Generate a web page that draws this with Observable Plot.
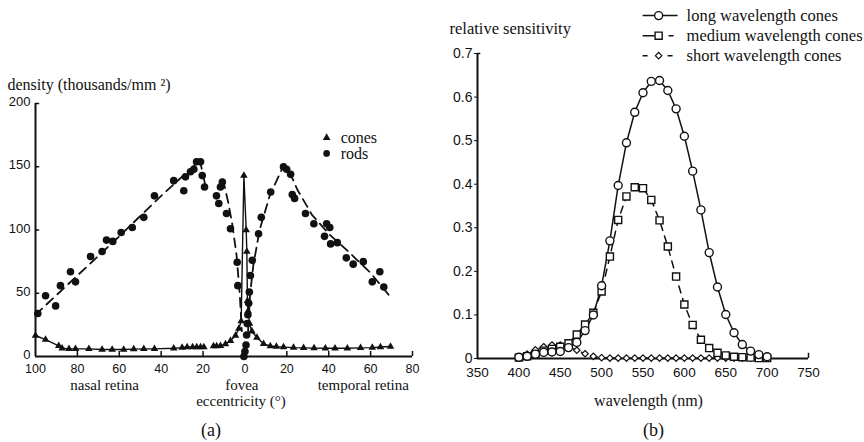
<!DOCTYPE html>
<html><head><meta charset="utf-8">
<script src="https://cdn.jsdelivr.net/npm/d3@7"></script>
<script src="https://cdn.jsdelivr.net/npm/@observablehq/plot@0.6"></script>
<style>
body{margin:0;background:#fff;}
#wrap{position:relative;width:864px;height:442px;overflow:hidden;background:#fff;}
#a{position:absolute;left:0;top:0;}
#b{position:absolute;left:432px;top:0;}
#wrap svg g[aria-label="text"] text{font-family:"Liberation Serif","Times New Roman",Times,"DejaVu Serif",serif;}
#wrap svg g[aria-label$="tick label"] text{font-family:"Liberation Sans",Arial,Helvetica,sans-serif;}
</style></head><body>
<div id="wrap"><div id="a"></div><div id="b"></div></div>
<script>
// ---------- Panel (a): photoreceptor density vs eccentricity ----------
const eccTicks = [-100,-80,-60,-40,-20,0,20,40,60,80];
const densTicks = [0,50,100,150,200];

const rodX = [-98.9,-95.2,-90.4,-88.1,-83.3,-80.9,-73.7,-68.2,-66.1,-63.1,-59.1,-53.8,-48.3,-43.2,-34,-29.2,-28.4,-26,-24.4,-23.1,-21.2,-20.4,-19.3,
  -13.6,-12.5,-11.7,-10.8,-8.8,-6.9,-3.7,-3.4,
  -0.5,0,0.5,0.8,
  1.1,1.4,1.8,2.1,2.6,3.5,6.5,7.8,12.3,18.4,19.9,21.8,22.6,23.7,28.9,32.9,38,39,40.5,40.9,44.1,48.4,51.7,56.5,60.8,64.4,66.3];
const rodD = [34,48,40,56,67,59,79,83,92,91,98,102,110,127,139,131,142,146,148,154,154,143,134,
  127,121,134,138,113,101,74.5,56,
  0,4,9,17,
  26,33,42,51,64,76,97,110,130,150,148,144,128,125,113,105,95,105,102,89,90,78,73,75,59,67,55];

const rodFitX = [-100,-60,-40,-21.5,-19, -10.5,-8,-6,-4,-2.5,-1.5, 1.5,2.5,4,7,12,18.5,21.5,25,32,40,50,60,70];
const rodFitD = [33,95,127,155,136, 140,122,104,80,50,20, 20,50,72,100,128,151,145,132,112,97,82,66,46];
const rodFitSeg = ["n","n","n","n","n", "l","l","l","l","l","l", "r","r","r","r","r","r","r","r","r","r","r","r","r"];

const coneNasalX = [-100,-95.2,-88.9,-87.3,-84,-80.9,-74.5,-68.2,-63.4,-57.9,-53.1,-48.3,-43.2,-34,-30,-27.6,-25,-23,-21.2,-19.6];
const coneNasalD = [16.6,13.3,8.4,6.5,6,6,6,5.5,5.5,5.5,5.8,6,6,6.5,7,7.5,7.5,7.5,7.5,7.5];
const coneFovealX = [-15,-13.5,-11.7,-9.3,-6.9,-4.5,-2.9,-1.8,-0.5,0.6,0.9,1.2,1.5,2.2,3.3,5.7,8.9,12.1,15,18.4,23.2,28,33,38.4,43,48.9,55.2,60.8,64.7,69.5];
const coneFovealD = [8.3,8.3,8.5,9.8,12.4,16.6,22,28,143,100,83,44,36,26,20,15,10,8.3,7.8,7.4,7,6.8,6.6,6.5,6.5,6.5,6.8,7,7.5,7.9];

const legendALabels = ["cones","rods"];
const legendASymbols = ["triangle","circle"];
const regionLabels = ["nasal retina","fovea","temporal retina"];
const regionX = [-67,-1.5,56.5];

// ---------- Panel (b): cone spectral sensitivity ----------
const wlTicks = [350,400,450,500,550,600,650,700,750];
const sensTicks = [0,0.1,0.2,0.3,0.4,0.5,0.6,0.7];
const wavelength = [400,410,420,430,440,450,460,470,480,490,500,510,520,530,540,550,560,570,580,590,600,610,620,630,640,650,660,670,680,690,700];
const longCones = [0.003,0.005,0.01,0.014,0.015,0.016,0.025,0.037,0.064,0.1,0.167,0.27,0.397,0.495,0.565,0.61,0.636,0.638,0.615,0.573,0.51,0.43,0.341,0.243,0.164,0.101,0.059,0.032,0.017,0.009,0.004];
const mediumCones = [0.002,0.005,0.01,0.018,0.022,0.027,0.035,0.055,0.078,0.105,0.154,0.234,0.318,0.372,0.393,0.391,0.364,0.317,0.257,0.188,0.124,0.077,0.043,0.024,0.013,0.007,0.004,0.003,0.002,0.001,0.001];
const shortCones = [0.003,0.01,0.02,0.027,0.031,0.031,0.027,0.019,0.011,0.005,0.002,0.001,0.001,0.001,0.001,0.001,0.001,0.001,0.001,0.001,0.001,0.001,0.001,0.001,0.001,0.001,0.001,0.001,0.001,0.001,0.001];
const legendBLabels = ["long wavelength cones","medium wavelength cones","short wavelength cones"];

// ---------- build ----------
const serif = "Liberation Serif, Times New Roman, Times, DejaVu Serif, serif";
const ink = "#111";

const rods = rodX.map((x,i)=>({x, y: rodD[i]}));
const rodFit = rodFitX.map((x,i)=>({x, y: rodFitD[i], seg: rodFitSeg[i]}));
const cones = coneNasalX.map((x,i)=>({x, y: coneNasalD[i], seg:"n"}))
  .concat(coneFovealX.map((x,i)=>({x, y: coneFovealD[i], seg:"f"})));
const legendA = legendALabels.map((label,i)=>({label, symbol: legendASymbols[i], x: 39, y: 173 - i*12.5}));
const regions = regionLabels.map((label,i)=>({label, x: regionX[i]}));

const plotA = Plot.plot({
  width: 432, height: 442,
  marginLeft: 35, marginRight: 20, marginTop: 103, marginBottom: 86,
  style: {fontSize: "13px", color: ink, background: "#fff"},
  x: {domain: [-100, 80]},
  y: {domain: [0, 200]},
  marks: [
    Plot.axisX({ticks: eccTicks, tickSize: 0, tickPadding: 8, tickFormat: d => String(Math.abs(d)), fontSize: 12.5, label: null}),
    Plot.axisY({ticks: densTicks, tickSize: 0, tickPadding: 5, fontSize: 13, dy: -1.5, label: null}),
    Plot.ruleX(eccTicks.filter(d => d !== 0 && d !== -100), {y1: 0, y2: 4, stroke: ink, strokeWidth: 1.5}),
    Plot.ruleY(densTicks.filter(d => d > 0), {x1: -100, x2: -98, stroke: ink, strokeWidth: 1.5}),
    Plot.ruleY([0], {x1: -100, x2: 80, stroke: ink, strokeWidth: 2}),
    Plot.ruleX([-100], {y1: 0, y2: 200, stroke: ink, strokeWidth: 2}),
    Plot.line(rodFit, {x: "x", y: "y", z: "seg", stroke: ink, strokeWidth: 1.8, strokeDasharray: "9,6"}),
    Plot.line(cones, {x: "x", y: "y", z: "seg", stroke: ink, strokeWidth: 1.4}),
    Plot.dot(cones, {x: "x", y: "y", symbol: "triangle", r: 2.8, fill: ink}),
    Plot.dot(rods, {x: "x", y: "y", r: 3.8, fill: ink}),
    Plot.dot(legendA, {x: "x", y: "y", symbol: "symbol", r: d => d.symbol === "circle" ? 3.8 : 2.8, fill: ink}),
    Plot.text(legendA, {x: "x", y: "y", text: "label", dx: 14, textAnchor: "start", fontFamily: serif, fontSize: 16}),
    Plot.text(regions, {x: "x", text: "label", frameAnchor: "bottom", lineAnchor: "middle", dy: 28.5, fontFamily: serif, fontSize: 15}),
    Plot.text(["eccentricity (°)"], {text: d => d, frameAnchor: "bottom", lineAnchor: "middle", dx: 17, dy: 45, fontFamily: serif, fontSize: 15}),
    Plot.text(["(a)"], {text: d => d, frameAnchor: "bottom", lineAnchor: "middle", dx: -13, dy: 74, fontFamily: serif, fontSize: 18}),
    Plot.text(["density (thousands/mm ²)"], {text: d => d, frameAnchor: "top-left", lineAnchor: "middle", dx: -28, dy: -19, textAnchor: "start", fontFamily: serif, fontSize: 16})
  ]
});
document.getElementById("a").appendChild(plotA);

const longData = wavelength.map((w,i)=>({w, s: longCones[i]}));
const medData = wavelength.map((w,i)=>({w, s: mediumCones[i]}));
const shortData = wavelength.map((w,i)=>({w, s: shortCones[i]}));
const legendB = legendBLabels.map((label,i)=>({label, y: 0.787 - i*0.046}));

const plotB = Plot.plot({
  width: 432, height: 442,
  marginLeft: 45, marginRight: 56, marginTop: 53, marginBottom: 84,
  style: {fontSize: "13px", color: ink, background: "#fff"},
  x: {domain: [350, 750]},
  y: {domain: [0, 0.7]},
  marks: [
    Plot.axisX({ticks: wlTicks, tickSize: 0, tickPadding: 9, fontSize: 13.5, label: null}),
    Plot.axisY({ticks: sensTicks, tickSize: 3, tickPadding: 2, fontSize: 14, label: null, tickFormat: d => d === 0 ? "0" : d3.format(".1f")(d)}),
    Plot.ruleY([0], {x1: 350, x2: 750, stroke: ink, strokeWidth: 2}),
    Plot.ruleX([350], {y1: 0, y2: 0.7, stroke: ink, strokeWidth: 2}),
    Plot.ruleY([0.7], {x1: 350, x2: 354, stroke: ink, strokeWidth: 1.5}),
    Plot.ruleX([750], {y1: 0, y2: 0.012, stroke: ink, strokeWidth: 1.5}),
    Plot.line(shortData, {x: "w", y: "s", stroke: ink, strokeWidth: 1.3, strokeDasharray: "6,5"}),
    Plot.line(medData, {x: "w", y: "s", stroke: ink, strokeWidth: 1.5, strokeDasharray: "7,6"}),
    Plot.line(longData, {x: "w", y: "s", stroke: ink, strokeWidth: 1.5}),
    Plot.dot(shortData, {x: "w", y: "s", symbol: "diamond2", r: 2.9, fill: "#fff", stroke: ink, strokeWidth: 1.2}),
    Plot.dot(medData, {x: "w", y: "s", symbol: "square", r: 4, fill: "#fff", stroke: ink, strokeWidth: 1.4}),
    Plot.dot(longData, {x: "w", y: "s", r: 4, fill: "#fff", stroke: ink, strokeWidth: 1.4}),
    // legend
    Plot.link(legendB.slice(0,1), {x1: 549.5, x2: 591.8, y1: "y", y2: "y", stroke: ink, strokeWidth: 1.5}),
    Plot.link(legendB.slice(1,2), {x1: 549.5, x2: 591.8, y1: "y", y2: "y", stroke: ink, strokeWidth: 1.5, strokeDasharray: "12,14,5,60"}),
    Plot.link(legendB.slice(2,3), {x1: 549.5, x2: 591.8, y1: "y", y2: "y", stroke: ink, strokeWidth: 1.5, strokeDasharray: "5,20,5,60"}),
    Plot.dot(legendB.slice(0,1), {x: 568.9, y: "y", r: 4, fill: "#fff", stroke: ink, strokeWidth: 1.4}),
    Plot.dot(legendB.slice(1,2), {x: 568.9, y: "y", symbol: "square", r: 4, fill: "#fff", stroke: ink, strokeWidth: 1.4}),
    Plot.dot(legendB.slice(2,3), {x: 568.9, y: "y", symbol: "diamond2", r: 2.9, fill: "#fff", stroke: ink, strokeWidth: 1.2}),
    Plot.text(legendB, {x: 602.7, y: "y", text: "label", textAnchor: "start", fontFamily: serif, fontSize: 16.5}),
    Plot.text(["relative sensitivity"], {text: d => d, frameAnchor: "top-left", lineAnchor: "middle", dx: -28, dy: -25, textAnchor: "start", fontFamily: serif, fontSize: 16.5}),
    Plot.text(["wavelength (nm)"], {text: d => d, frameAnchor: "bottom", lineAnchor: "middle", dx: 5.5, dy: 42, fontFamily: serif, fontSize: 16}),
    Plot.text(["(b)"], {text: d => d, frameAnchor: "bottom", lineAnchor: "middle", dx: 10.5, dy: 72, fontFamily: serif, fontSize: 18})
  ]
});
document.getElementById("b").appendChild(plotB);
</script>
</body></html>
